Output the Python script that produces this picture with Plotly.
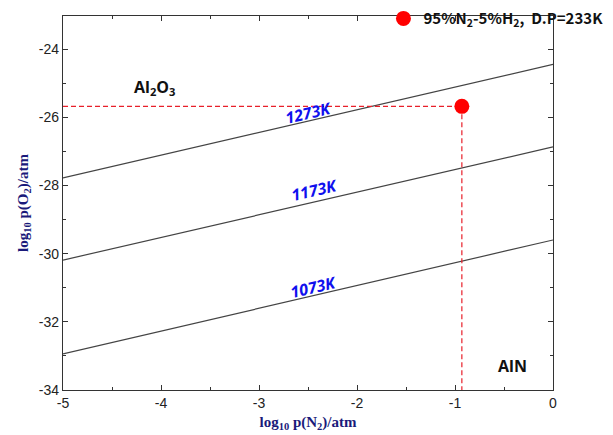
import plotly.graph_objects as go

# Data
x_ends = [-5, 0]
line_1273 = [-27.78, -24.45]
line_1173 = [-30.19, -26.87]
line_1073 = [-32.94, -29.60]
temps = ["1273K", "1173K", "1073K"]
point_x = -0.93
point_y = -25.68
x_ticks = [-5, -4, -3, -2, -1, 0]
y_ticks = [-34, -32, -30, -28, -26, -24]

fig = go.Figure()
for ys in [line_1273, line_1173, line_1073]:
    fig.add_trace(go.Scatter(x=x_ends, y=ys, mode="lines",
                             line=dict(color="#444444", width=1.2),
                             showlegend=False, hoverinfo="skip"))

# dashed guides
fig.add_trace(go.Scatter(x=[-5, point_x], y=[point_y, point_y], mode="lines",
                         line=dict(color="#e8202a", width=1.2, dash="5px,3px"),
                         showlegend=False))
fig.add_trace(go.Scatter(x=[point_x, point_x], y=[point_y, -34], mode="lines",
                         line=dict(color="#e8202a", width=1.2, dash="5px,3px"),
                         showlegend=False))
fig.add_trace(go.Scatter(x=[point_x], y=[point_y], mode="markers",
                         marker=dict(color="#ff0000", size=15),
                         name="<b>95%N<sub>2</sub>-5%H<sub>2</sub>,  D.P=233K</b>"))

# temperature labels
label_pos = [(-2.5, -25.88), (-2.43, -28.13), (-2.44, -30.98)]
for t, (lx, ly) in zip(temps, label_pos):
    fig.add_annotation(x=lx, y=ly, text="<b><i>%s</i></b>" % t, showarrow=False,
                       textangle=-13, font=dict(color="#1010ee", size=16, family="Open Sans"))

fig.add_annotation(x=-4.07, y=-25.14, text="<b>Al<sub>2</sub>O<sub>3</sub></b>", showarrow=False,
                   font=dict(color="#111111", size=16, family="Open Sans"))
fig.add_annotation(x=-0.41, y=-33.3, text="<b>AlN</b>", showarrow=False,
                   font=dict(color="#111111", size=16, family="Open Sans"))

axis_common = dict(showgrid=False, zeroline=False, showline=True, linecolor="#333333",
                   linewidth=1.2, mirror="ticks", ticks="inside", ticklen=5,
                   tickcolor="#333333",
                   tickfont=dict(family="Liberation Sans", size=14, color="#222222"))

fig.update_xaxes(range=[-5, 0], tickvals=x_ticks, ticktext=[str(v) for v in x_ticks],
                 minor=dict(dtick=0.5, ticks="inside", ticklen=3, tickcolor="#333333"),
                 title=dict(text="<b>log<sub>10</sub> p(N<sub>2</sub>)/atm</b>",
                            font=dict(family="Liberation Serif", size=15, color="#1a1a7a"),
                            standoff=6),
                 **axis_common)
fig.update_yaxes(range=[-34, -23.03], tickvals=y_ticks, ticktext=[str(v) for v in y_ticks],
                 minor=dict(dtick=1, ticks="inside", ticklen=3, tickcolor="#333333"),
                 title=dict(text="<b>log<sub>10</sub> p(O<sub>2</sub>)/atm</b>",
                            font=dict(family="Liberation Serif", size=15, color="#1a1a7a"),
                            standoff=6),
                 **axis_common)

fig.update_layout(width=613, height=435,
                  margin=dict(l=63, r=60, t=16, b=45, autoexpand=False),
                  plot_bgcolor="white", paper_bgcolor="white",
                  legend=dict(x=0.654, y=1.037, xanchor="left", yanchor="top",
                              bgcolor="rgba(0,0,0,0)",
                              font=dict(family="Noto Sans CJK KR", size=15, color="#111111")))

fig.write_html("out.html")
